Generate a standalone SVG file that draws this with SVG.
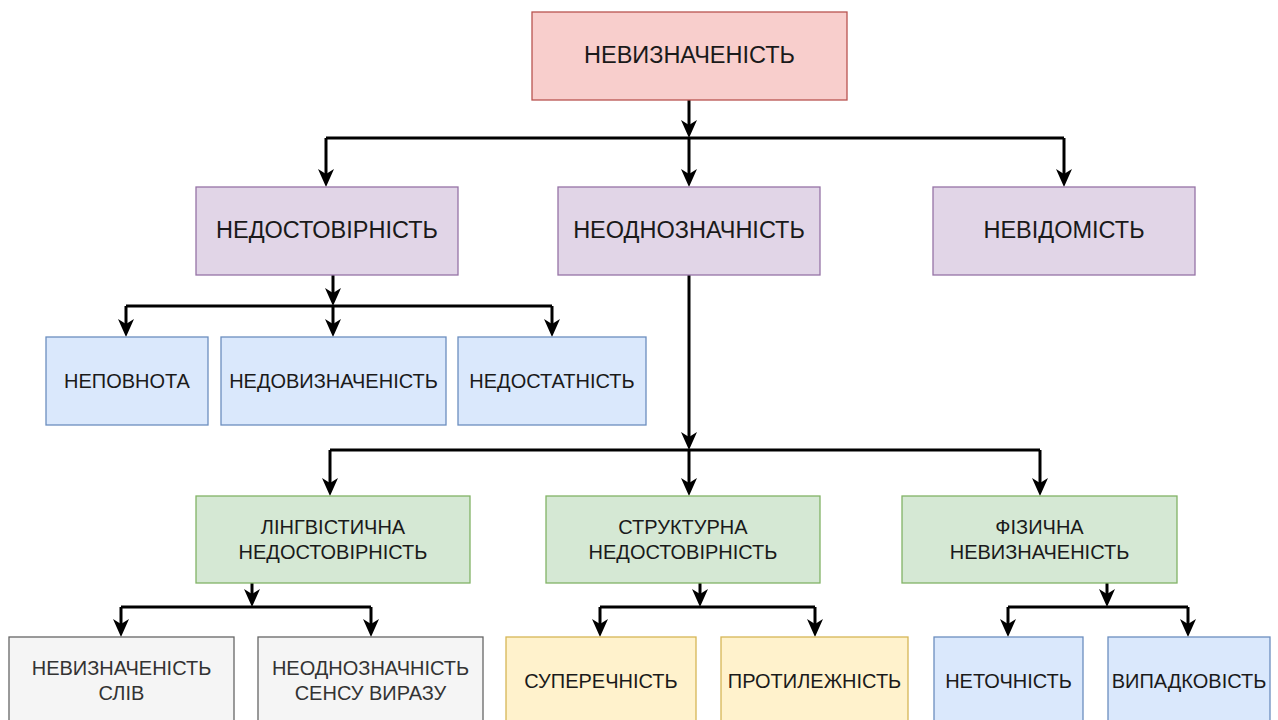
<svg xmlns="http://www.w3.org/2000/svg" width="1278" height="720" viewBox="0 0 1278 720">
<style>
text{font-family:"Liberation Sans",Arial,Helvetica,sans-serif;text-anchor:middle;dominant-baseline:central;fill:#1a1a1a}
.big{font-size:23.5px}
.sm{font-size:20px}
.red{fill:#f8cecc;stroke:#b85450;stroke-width:1.3}
.pur{fill:#e1d5e7;stroke:#9673a6;stroke-width:1.3}
.blu{fill:#dae8fc;stroke:#6c8ebf;stroke-width:1.3}
.grn{fill:#d5e8d4;stroke:#82b366;stroke-width:1.3}
.gry{fill:#f5f5f5;stroke:#666666;stroke-width:1.3}
.yel{fill:#fff2cc;stroke:#d6b656;stroke-width:1.3}
.gt{fill:#333333}
.e{fill:none;stroke:#000;stroke-width:3;marker-end:url(#arr)}
.l{fill:none;stroke:#000;stroke-width:3}
</style>
<defs>
<marker id="arr" viewBox="0 -8 18 16" refX="8" refY="0" markerWidth="18" markerHeight="16" markerUnits="userSpaceOnUse" orient="auto">
<path d="M0,-8 L18,0 L0,8 L5,0 Z" fill="#000"/>
</marker>
</defs>
<rect width="1278" height="720" fill="#ffffff"/>
<g id="connectors">
<path class="e" d="M689,100 V128"/>
<path class="l" d="M326,138 H1064"/>
<path class="e" d="M326,138 V177"/>
<path class="e" d="M689,138 V177"/>
<path class="e" d="M1064,138 V177"/>
<path class="e" d="M333,275 V296"/>
<path class="l" d="M126,306 H552"/>
<path class="e" d="M126,306 V327"/>
<path class="e" d="M333,306 V327"/>
<path class="e" d="M552,306 V327"/>
<path class="e" d="M689,275 V440"/>
<path class="l" d="M330,450 H1040"/>
<path class="e" d="M330,450 V486"/>
<path class="e" d="M689,450 V486"/>
<path class="e" d="M1040,450 V486"/>
<path class="e" d="M252,583 V597"/>
<path class="l" d="M121,607 H371"/>
<path class="e" d="M121,607 V627"/>
<path class="e" d="M371,607 V627"/>
<path class="e" d="M700,583 V597"/>
<path class="l" d="M600,607 H815"/>
<path class="e" d="M600,607 V627"/>
<path class="e" d="M815,607 V627"/>
<path class="e" d="M1107,583 V597"/>
<path class="l" d="M1008,607 H1188"/>
<path class="e" d="M1008,607 V627"/>
<path class="e" d="M1188,607 V627"/>
</g>
<g id="n-root"><rect class="red" x="532" y="12" width="315" height="88"/><text class="big" x="689.5" y="55">НЕВИЗНАЧЕНІСТЬ</text></g>
<g id="n-nedost"><rect class="pur" x="196" y="187" width="262" height="88"/><text class="big" x="327" y="230">НЕДОСТОВІРНІСТЬ</text></g>
<g id="n-neodn"><rect class="pur" x="558" y="187" width="262" height="88"/><text class="big" x="689" y="230">НЕОДНОЗНАЧНІСТЬ</text></g>
<g id="n-nevid"><rect class="pur" x="933" y="187" width="262" height="88"/><text class="big" x="1064" y="230">НЕВІДОМІСТЬ</text></g>
<g id="n-nepovnota"><rect class="blu" x="46" y="337" width="162" height="88"/><text class="sm" x="127" y="381">НЕПОВНОТА</text></g>
<g id="n-nedovyzn"><rect class="blu" x="221" y="337" width="225" height="88"/><text class="sm" x="333.5" y="381">НЕДОВИЗНАЧЕНІСТЬ</text></g>
<g id="n-nedostat"><rect class="blu" x="458" y="337" width="188" height="88"/><text class="sm" x="552" y="381">НЕДОСТАТНІСТЬ</text></g>
<g id="n-ling"><rect class="grn" x="196" y="496" width="274" height="87"/><text class="sm" x="333" y="527">ЛІНГВІСТИЧНА</text><text class="sm" x="333" y="552">НЕДОСТОВІРНІСТЬ</text></g>
<g id="n-strukt"><rect class="grn" x="546" y="496" width="274" height="87"/><text class="sm" x="683" y="527">СТРУКТУРНА</text><text class="sm" x="683" y="552">НЕДОСТОВІРНІСТЬ</text></g>
<g id="n-fiz"><rect class="grn" x="902" y="496" width="275" height="87"/><text class="sm" x="1039.5" y="527">ФІЗИЧНА</text><text class="sm" x="1039.5" y="552">НЕВИЗНАЧЕНІСТЬ</text></g>
<g id="n-slova"><rect class="gry" x="9" y="637" width="225" height="88"/><text class="sm gt" x="121.5" y="668">НЕВИЗНАЧЕНІСТЬ</text><text class="sm gt" x="121.5" y="693">СЛІВ</text></g>
<g id="n-sensu"><rect class="gry" x="258" y="637" width="225" height="88"/><text class="sm gt" x="370.5" y="668">НЕОДНОЗНАЧНІСТЬ</text><text class="sm gt" x="370.5" y="693">СЕНСУ ВИРАЗУ</text></g>
<g id="n-superech"><rect class="yel" x="506" y="637" width="190" height="88"/><text class="sm" x="601" y="681">СУПЕРЕЧНІСТЬ</text></g>
<g id="n-protyl"><rect class="yel" x="721" y="637" width="187" height="88"/><text class="sm" x="814.5" y="681">ПРОТИЛЕЖНІСТЬ</text></g>
<g id="n-netochn"><rect class="blu" x="934" y="637" width="149" height="88"/><text class="sm" x="1008.5" y="681">НЕТОЧНІСТЬ</text></g>
<g id="n-vypadk"><rect class="blu" x="1108" y="637" width="162" height="88"/><text class="sm" x="1189" y="681">ВИПАДКОВІСТЬ</text></g>
</svg>
